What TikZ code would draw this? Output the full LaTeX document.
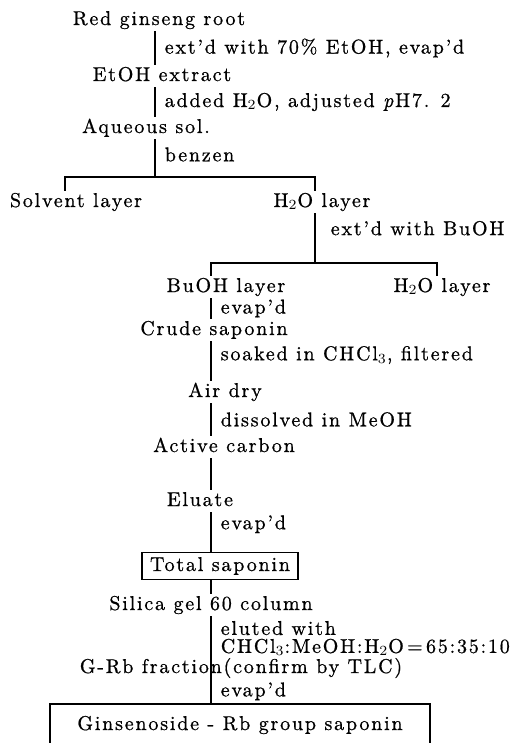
\documentclass[tikz,border=0pt]{standalone}
\usepackage{fontspec}
\setmainfont{lmroman10-regular}[Extension=.otf,
  ItalicFont=lmroman10-italic, LetterSpace=9, FakeBold=0.8]
\begin{document}
\begin{tikzpicture}[x=0.5pt,y=-0.5pt,
    tahap/.style={inner sep=1pt,font=\fontsize{10}{12}\selectfont,
      text height=7pt,text depth=2pt},
    ket/.style={inner sep=1pt,anchor=west,xshift=3.5pt,align=left,
      font=\fontsize{10}{9}\selectfont},
    kotak/.style={tahap,draw,line width=0.7pt,inner xsep=4pt},
    garis/.style={line width=0.8pt}]

  \useasboundingbox (0,0) rectangle (523,743);

  % sumbu garis tegak dan titik cabang
  \coordinate (sA) at (155,0);
  \coordinate (sB) at (315,0);
  \coordinate (sC) at (211,0);
  \coordinate (kiri) at (65,0);
  \coordinate (kanan) at (437,0);
  \coordinate (cabA) at (155,177);
  \coordinate (cabB) at (315,263);

  % Ekstraksi dan partisi
  \node[tahap] (akar) at (159,20) {Red ginseng root};
  \node[tahap] (etoh) at (162,76) {EtOH extract};
  \node[tahap] (larutan) at (146,128) {Aqueous sol.};
  \node[tahap] (pelarut) at (76,202) {Solvent layer};
  \node[tahap] (airA) at (322,202) {H$_2$O layer};
  \node[tahap] (buoh) at (226,287) {BuOH layer};
  \node[tahap] (airB) at (442,287) {H$_2$O layer};

  \draw[garis] (akar.south -| sA) --
    node[ket] {ext'd with 70\% EtOH, evap'd} (etoh.north -| sA);
  \draw[garis] (etoh.south -| sA) --
    node[ket] {added H$_2$O, adjusted \textit{p}H7. 2} (larutan.north -| sA);
  \draw[garis] (larutan.south -| sA) -- node[ket,pos=0.4] {benzen} (cabA);
  \draw[garis] (pelarut.north -| kiri) |- (cabA) -| (airA.north -| sB);
  \draw[garis] (airA.south -| sB) --
    node[ket,pos=0.3,xshift=3pt] {ext'd with BuOH} (cabB);
  \draw[garis] (buoh.north -| sC) |- (cabB) -| (airB.north -| kanan);

  % Pemurnian saponin
  \node[tahap] (kasar) at (214,330) {Crude saponin};
  \node[tahap] (kering) at (225,392) {Air dry};
  \node[tahap] (karbon) at (224,447) {Active carbon};
  \node[tahap] (eluat) at (200,501) {Eluate};
  \node[kotak,minimum height=13.5pt] (total) at (220,566) {Total saponin};
  \node[tahap] (silika) at (211,605) {Silica gel 60 column};
  \node[tahap] (grb) at (241,668) {G-Rb fraction(confirm by TLC)};
  \node[kotak,minimum width=190pt,minimum height=21pt] (gins) at (240,725)
    {Ginsenoside - Rb group saponin};

  \draw[garis] (buoh.south -| sC) -- node[ket] {evap'd} (kasar.north -| sC);
  \draw[garis] (kasar.south -| sC) --
    node[ket,pos=0.35] {soaked in CHCl$_3$, filtered} (kering.north -| sC);
  \draw[garis] (kering.south -| sC) --
    node[ket] {dissolved in MeOH} (karbon.north -| sC);
  \draw[garis] (karbon.south -| sC) -- (eluat.north -| sC);
  \draw[garis] (eluat.south -| sC) -- node[ket,pos=0.3] {evap'd} (total.north -| sC);
  \draw[garis] (total.south -| sC) -- (silika.north -| sC);
  \draw[garis] (silika.south -| sC) -- node[ket,pos=0.35]
    {eluted with\\CHCl$_3$:MeOH:H$_2$O$\,$=$\,$65:35:10} (grb.south -| sC);
  \draw[garis] (grb.south -| sC) -- node[ket] {evap'd} (gins.north -| sC);
\end{tikzpicture}
\end{document}
